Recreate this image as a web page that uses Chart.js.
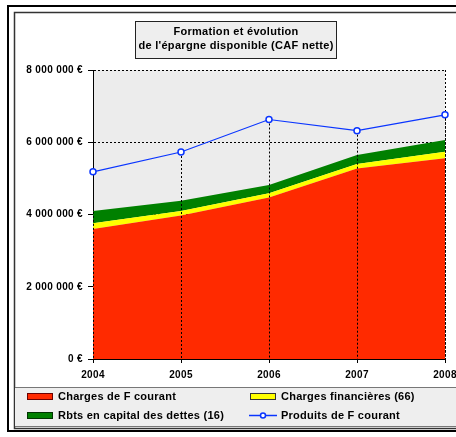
<!DOCTYPE html>
<html>
<head>
<meta charset="utf-8">
<script src="https://cdn.jsdelivr.net/npm/chart.js@4/dist/chart.umd.min.js"></script>
<style>
  html, body { margin: 0; padding: 0; background: #fff; }
  canvas { display: block; }
</style>
</head>
<body>
<canvas id="c" width="456" height="437"></canvas>
<script>
// données
const annees = ['2004', '2005', '2006', '2007', '2008'];
const chargesCourant = [3600000, 3970000, 4470000, 5270000, 5560000];
const chargesFinancieres = [160000, 130000, 120000, 130000, 180000];
const rbtsCapital = [340000, 280000, 230000, 250000, 320000];
const produitsCourant = [5180000, 5730000, 6630000, 6320000, 6760000];
const yTicks = [0, 2000000, 4000000, 6000000, 8000000];

const titre = ['Formation et évolution', "de l'épargne disponible (CAF nette)"];

const ROUGE = '#ff2a00', JAUNE = '#ffff00', VERT = '#008000', BLEU = '#0a35ff';
const FONT = 'Arial, "Liberation Sans", sans-serif';

function euro(v) {
  return String(v).replace(/\B(?=(\d{3})+(?!\d))/g, ' ') + ' €';
}

// cadre, fond du graphe, titre, légende
const decor = {
  id: 'decor',
  beforeDraw(chart) {
    const ctx = chart.ctx, a = chart.chartArea;
    ctx.letterSpacing = '0.35px'; // texte un peu plus large comme dans Excel
    ctx.save();
    ctx.fillStyle = '#fff';
    ctx.fillRect(0, 0, chart.width, chart.height);
    ctx.strokeStyle = '#000';
    ctx.lineWidth = 2;
    ctx.strokeRect(8, 6, 470, 425);
    ctx.strokeStyle = '#333';
    ctx.lineWidth = 1.5;
    ctx.strokeRect(14.5, 12.5, 470, 416);
    ctx.fillStyle = '#ececec';
    ctx.fillRect(a.left, a.top, a.right - a.left, a.bottom - a.top);
    ctx.restore();
  },
  beforeDatasetsDraw(chart) {
    // bord droit de la zone de traçage, en pointillés
    const ctx = chart.ctx, a = chart.chartArea;
    ctx.save();
    ctx.strokeStyle = '#000';
    ctx.lineWidth = 1;
    ctx.setLineDash([2, 2]);
    ctx.beginPath();
    ctx.moveTo(Math.round(a.right) + 0.5, a.top);
    ctx.lineTo(Math.round(a.right) + 0.5, a.bottom);
    ctx.stroke();
    ctx.restore();
  },
  beforeDatasetDraw(chart, args) {
    // lignes de projection depuis la courbe des produits
    if (args.index !== 3) return;
    const ctx = chart.ctx, a = chart.chartArea;
    ctx.save();
    ctx.strokeStyle = '#000';
    ctx.lineWidth = 1;
    ctx.setLineDash([2, 2]);
    args.meta.data.forEach(p => {
      const x = Math.round(p.x) + 0.5;
      ctx.beginPath();
      ctx.moveTo(x, p.y);
      ctx.lineTo(x, a.bottom);
      ctx.stroke();
    });
    ctx.restore();
  },
  afterDraw(chart) {
    const ctx = chart.ctx;
    ctx.save();
    // titre
    ctx.fillStyle = '#eeeeee';
    ctx.fillRect(135, 21, 201, 37);
    ctx.strokeStyle = '#222';
    ctx.lineWidth = 1;
    ctx.strokeRect(135.5, 21.5, 201, 37);
    ctx.fillStyle = '#000';
    ctx.letterSpacing = '0.3px';
    ctx.font = 'bold 11px ' + FONT;
    ctx.textAlign = 'center';
    ctx.textBaseline = 'middle';
    ctx.fillText(titre[0], 236, 32);
    ctx.fillText(titre[1], 236, 46);

    // légende
    ctx.fillStyle = '#eeeeee';
    ctx.fillRect(15, 387, 450, 39);
    ctx.strokeStyle = '#777';
    ctx.beginPath();
    ctx.moveTo(15, 387.5); ctx.lineTo(456, 387.5);
    ctx.moveTo(15, 426.5); ctx.lineTo(456, 426.5);
    ctx.stroke();

    const ds = chart.data.datasets;
    const pos = [[27, 396], [250, 396], [27, 415], [250, 415]];
    ctx.font = 'bold 11px ' + FONT;
    ctx.letterSpacing = '0.25px';
    ctx.textAlign = 'left';
    ds.forEach((d, i) => {
      const [x, y] = pos[i];
      if (d.type === 'line' && !d.fill) {
        ctx.strokeStyle = d.borderColor;
        ctx.lineWidth = 1.5;
        ctx.beginPath();
        ctx.moveTo(x - 1, y + 0.5); ctx.lineTo(x + 27, y + 0.5);
        ctx.stroke();
        ctx.fillStyle = '#fff';
        ctx.beginPath();
        ctx.arc(x + 13, y + 0.5, 2.5, 0, Math.PI * 2);
        ctx.fill(); ctx.stroke();
      } else {
        ctx.fillStyle = d.backgroundColor;
        ctx.fillRect(x, y - 3, 26, 6);
        ctx.strokeStyle = d.legendBorder;
        ctx.lineWidth = 1;
        ctx.strokeRect(x + 0.5, y - 2.5, 25, 6);
      }
      ctx.fillStyle = '#000';
      ctx.fillText(d.label, x + 31, y + 0.5);
    });
    ctx.restore();
  }
};

new Chart(document.getElementById('c'), {
  type: 'line',
  data: {
    labels: annees,
    datasets: [
      { label: 'Charges de F courant', data: chargesCourant, backgroundColor: ROUGE, legendBorder: '#6a0000',
        borderWidth: 0, pointRadius: 0, fill: 'origin', tension: 0 },
      { label: 'Charges financières (66)', data: chargesFinancieres, backgroundColor: JAUNE, legendBorder: '#333',
        borderWidth: 0, pointRadius: 0, fill: '-1', tension: 0 },
      { label: 'Rbts en capital des dettes (16)', data: rbtsCapital, backgroundColor: VERT, legendBorder: '#003300',
        borderWidth: 0, pointRadius: 0, fill: '-1', tension: 0 },
      { type: 'line', label: 'Produits de F courant', data: produitsCourant, stack: 'produits', order: -1,
        borderColor: BLEU, borderWidth: 1.2, fill: false, tension: 0,
        pointRadius: 3, pointBorderWidth: 1.5, pointBackgroundColor: '#fff', pointBorderColor: BLEU }
    ]
  },
  options: {
    responsive: false,
    animation: false,
    devicePixelRatio: 1,
    layout: { padding: { left: 0, top: 70, right: 11, bottom: 0 } },
    plugins: { legend: { display: false }, title: { display: false }, tooltip: { enabled: false } },
    scales: {
      x: {
        offset: false,
        afterFit(s) { s.height = 78; s.paddingLeft = 0; s.paddingRight = 0; },
        grid: { display: true, drawOnChartArea: false, drawTicks: true, tickLength: 4, tickColor: '#000' },
        border: { display: true, color: '#000', width: 1 },
        ticks: { color: '#000', padding: 6, maxRotation: 0, autoSkip: false,
          font: { family: FONT, size: 10, weight: 'bold' } }
      },
      y: {
        stacked: true,
        min: 0,
        max: 8000000,
        afterFit(s) { s.width = 93; s.paddingTop = 0; s.paddingBottom = 0; },
        afterBuildTicks(s) { s.ticks = yTicks.map(v => ({ value: v })); },
        grid: { color: '#000', lineWidth: 1, tickLength: 5, tickColor: '#000', tickBorderDash: [] },
        border: { display: true, color: '#000', width: 1, dash: [2, 2] },
        ticks: { color: '#000', padding: 5, callback: v => euro(v),
          font: { family: FONT, size: 10, weight: 'bold' } }
      }
    }
  },
  plugins: [decor]
});
</script>
</body>
</html>
